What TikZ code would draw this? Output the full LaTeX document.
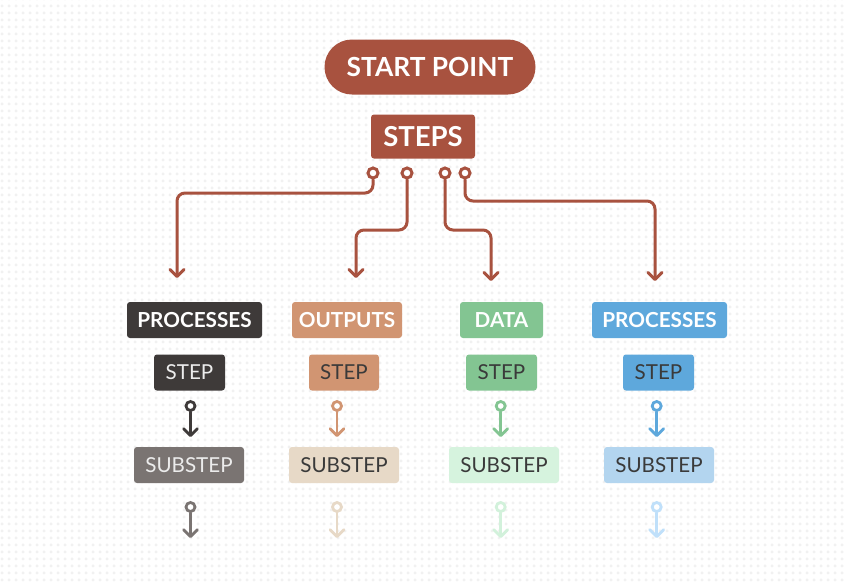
\documentclass[tikz,border=0pt]{standalone}
\usepackage{fontspec}
\setmainfont{Lato}
\usetikzlibrary{arrows.meta,patterns.meta}
\definecolor{brick}{HTML}{A8523F}
\definecolor{blackc}{HTML}{3E3A39}
\definecolor{grayc}{HTML}{7A7472}
\definecolor{orangec}{HTML}{D19572}
\definecolor{beigec}{HTML}{E7D9C7}
\definecolor{greenc}{HTML}{83C592}
\definecolor{lgreenc}{HTML}{D6F3DE}
\definecolor{bluec}{HTML}{5EA8DC}
\definecolor{lbluec}{HTML}{B3D5EF}
\definecolor{lblue2c}{HTML}{C0E0FA}
\definecolor{lgreen2c}{HTML}{D2F1DB}
\definecolor{darktext}{HTML}{3A3A3A}
\definecolor{lighttext}{HTML}{ECECEC}
\pgfdeclarepattern{
  name=plusgrid,
  bottom left={\pgfpoint{0pt}{0pt}},
  top right={\pgfpoint{7pt}{7pt}},
  tile size={\pgfpoint{7pt}{7pt}},
  code={
    \pgfsetlinewidth{0.8pt}
    \pgfpathmoveto{\pgfpoint{1.8pt}{3.5pt}}\pgfpathlineto{\pgfpoint{5.2pt}{3.5pt}}
    \pgfpathmoveto{\pgfpoint{3.5pt}{1.8pt}}\pgfpathlineto{\pgfpoint{3.5pt}{5.2pt}}
    \pgfusepath{stroke}
  }
}
\begin{document}
\begin{tikzpicture}[x=1pt,y=-1pt,
  pill/.style={fill=brick, rounded corners=27.5, minimum width=211, minimum height=55, inner sep=0, text=white, font=\bfseries\fontsize{26.3}{26}\selectfont},
  hdr/.style={rounded corners=3, minimum height=36, inner sep=0, text=white, font=\bfseries\fontsize{20.7}{20}\selectfont},
  stepbox/.style={rounded corners=3, minimum height=36, inner sep=0, text=darktext, font=\fontsize{20.6}{20}\selectfont},
  bigpin/.style={circle, draw=brick, fill=white, line width=3, minimum size=10, inner sep=0},
  smallpin/.style={circle, fill=white, line width=2.8, minimum size=9, inner sep=0},
  bigarrow/.style={draw=brick, line width=3, line cap=round, line join=round, rounded corners=8, -{Straight Barb[length=7pt,width=14pt,round]}},
  smallarrow/.style={line width=2.8, line cap=round, -{Straight Barb[length=7pt,width=14pt,round]}}
]
\useasboundingbox (0,0) rectangle (844,582);
\fill[white] (0,0) rectangle (844,582);
\fill[pattern=plusgrid, pattern color=black!8] (0,0) rectangle (844,582);

% top
\node[pill] (start) at (430,67) {START POINT};
\node[hdr, fill=brick, minimum width=104, minimum height=44, font=\bfseries\fontsize{27.5}{27}\selectfont] (steps) at (423,136.5) {STEPS};

\node[bigpin] (c1) at (373,173) {};
\node[bigpin] (c2) at (407,173) {};
\node[bigpin] (c3) at (445,173) {};
\node[bigpin] (c4) at (465,173) {};
\coordinate (b1) at (177,193); \coordinate (t1) at (177,278);
\coordinate (b2) at (356,230); \coordinate (t2) at (356,278);
\coordinate (b3) at (491,230); \coordinate (t3) at (491,281);
\coordinate (b4) at (655,201); \coordinate (t4) at (655,281);
\draw[bigarrow] (c1.south) |- (b1) -- (t1);
\draw[bigarrow] (c2.south) |- (b2) -- (t2);
\draw[bigarrow] (c3.south) |- (b3) -- (t3);
\draw[bigarrow] (c4.south) |- (b4) -- (t4);

% column 1
\node[hdr, fill=blackc, minimum width=135] (h1) at (194.5,320) {PROCESSES};
\node[stepbox, fill=blackc, text=lighttext, minimum width=71] (s1) at (189.5,372.5) {STEP};
\node[smallpin, draw=blackc] (k1) at (190.5,406) {};
\coordinate (u1) at (190.5,437);
\draw[smallarrow, draw=blackc] (k1.south) -- (u1);
\node[stepbox, fill=grayc, text=lighttext, minimum width=110] (ss1) at (189,465) {SUBSTEP};
\node[smallpin, draw=grayc] (m1) at (190.5,507) {};
\coordinate (v1) at (190.5,538);
\draw[smallarrow, draw=grayc] (m1.south) -- (v1);

% column 2
\node[hdr, fill=orangec, minimum width=110] (h2) at (347,320) {OUTPUTS};
\node[stepbox, fill=orangec, minimum width=70] (s2) at (344,372.5) {STEP};
\node[smallpin, draw=orangec] (k2) at (337,406) {};
\coordinate (u2) at (337,437);
\draw[smallarrow, draw=orangec] (k2.south) -- (u2);
\node[stepbox, fill=beigec, minimum width=110] (ss2) at (344,465) {SUBSTEP};
\node[smallpin, draw=beigec] (m2) at (337,507) {};
\coordinate (v2) at (337,538);
\draw[smallarrow, draw=beigec] (m2.south) -- (v2);

% column 3
\node[hdr, fill=greenc, minimum width=83] (h3) at (501.5,320) {DATA};
\node[stepbox, fill=greenc, minimum width=71] (s3) at (501.5,372.5) {STEP};
\node[smallpin, draw=greenc] (k3) at (500.7,406) {};
\coordinate (u3) at (500.7,437);
\draw[smallarrow, draw=greenc] (k3.south) -- (u3);
\node[stepbox, fill=lgreenc, minimum width=110] (ss3) at (504,465) {SUBSTEP};
\node[smallpin, draw=lgreen2c] (m3) at (500.7,507) {};
\coordinate (v3) at (500.7,538);
\draw[smallarrow, draw=lgreen2c] (m3.south) -- (v3);

% column 4
\node[hdr, fill=bluec, minimum width=135] (h4) at (659.5,320) {PROCESSES};
\node[stepbox, fill=bluec, minimum width=71] (s4) at (658.5,372.5) {STEP};
\node[smallpin, draw=bluec] (k4) at (656.7,406) {};
\coordinate (u4) at (656.7,437);
\draw[smallarrow, draw=bluec] (k4.south) -- (u4);
\node[stepbox, fill=lbluec, minimum width=110] (ss4) at (659,465) {SUBSTEP};
\node[smallpin, draw=lblue2c] (m4) at (656.7,507) {};
\coordinate (v4) at (656.7,538);
\draw[smallarrow, draw=lblue2c] (m4.south) -- (v4);
\end{tikzpicture}
\end{document}
